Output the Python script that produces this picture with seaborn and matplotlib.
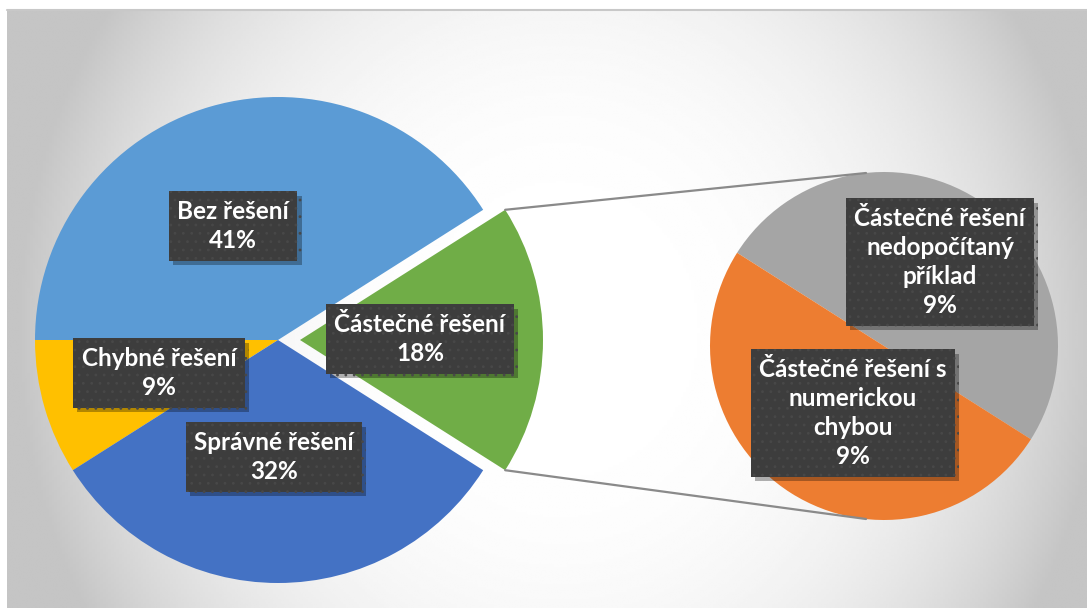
import numpy as np
import matplotlib
matplotlib.use("Agg")
import matplotlib.pyplot as plt
import matplotlib.patheffects as pe
import seaborn as sns

# data
main_labels = ["Částečné řešení", "Bez řešení", "Chybné řešení", "Správné řešení"]
main_values = [18, 41, 9, 32]
main_colors = ["#70AD47", "#5B9BD5", "#FFC000", "#4472C4"]

sub_labels = ["Částečné řešení\nnedopočítaný\npříklad", "Částečné řešení s\nnumerickou\nchybou"]
sub_values = [9, 9]
sub_colors = ["#A5A5A5", "#ED7D31"]

sns.set_style("white")
plt.rcParams["font.family"] = ["Lato", "DejaVu Sans"]
plt.rcParams["hatch.linewidth"] = 0.8

W, H = 1087, 608
fig = plt.figure(figsize=(W / 100, H / 100), dpi=100)
ax = fig.add_axes([0, 0, 1, 1])

# radial gradient background (white centre, grey edges)
px, py = np.meshgrid(np.linspace(7, W, 400), np.linspace(10, H, 240))
rr = np.sqrt(((px - 560) / 560) ** 2 + ((py - 330) / 600) ** 2)
shade = np.clip(1.0 - 0.25 * rr ** 3, 0.77, 1.0)
ax.imshow(shade, cmap="gray", vmin=0, vmax=1, extent=(7, W, 0, H - 10),
          origin="upper", zorder=0, aspect="auto", interpolation="bilinear")
ax.plot([7, W], [H - 10, H - 10], color="#c8c8c8", lw=1.5, zorder=1)

# main pie (explode is in data units here)
c1 = (278, H - 340)
r1 = 243
expl = 22
half = main_values[0] / sum(main_values) * 180
ax.pie(main_values, colors=main_colors, startangle=-half, counterclock=True,
       center=c1, radius=r1, explode=[expl, 0, 0, 0],
       wedgeprops=dict(linewidth=0), frame=True)

# secondary pie
c2 = (884, H - 346)
r2 = 174
ax.pie(sub_values, colors=sub_colors, startangle=-half, counterclock=True,
       center=c2, radius=r2, wedgeprops=dict(linewidth=0), frame=True)

# connector lines
a = np.deg2rad(half)
for s in (1, -1):
    x0 = c1[0] + expl + r1 * np.cos(a)
    y0 = c1[1] + s * r1 * np.sin(a)
    ax.plot([x0, c2[0] - 18], [y0, c2[1] + s * (r2 - 1)], color="#8a8a8a", lw=1.6, zorder=1)

ax.set_xlim(0, W)
ax.set_ylim(0, H)
ax.set_aspect("equal")
ax.axis("off")

# labels
main_pos = [(420, 339), (233, 226), (159, 373), (274, 457)]
sub_pos = [(940, 262), (853, 413)]


def label(x, y, txt):
    t = ax.text(x, H - y, txt, ha="center", va="center", color="white",
                fontsize=17.5, fontweight="bold", linespacing=1.32, zorder=5,
                bbox=dict(boxstyle="square,pad=0.35", facecolor="#3d3d3d",
                          edgecolor="#484848", hatch="..", linewidth=0))
    t.get_bbox_patch().set_path_effects([
        pe.SimplePatchShadow(offset=(3, -3), shadow_rgbFace="black", alpha=0.3),
        pe.Normal()])


for lab, v, pos in zip(main_labels, main_values, main_pos):
    label(pos[0], pos[1], f"{lab}\n{v}%")
for lab, v, pos in zip(sub_labels, sub_values, sub_pos):
    label(pos[0], pos[1], f"{lab}\n{v}%")

fig.savefig("out.png", dpi=100, facecolor="white")
